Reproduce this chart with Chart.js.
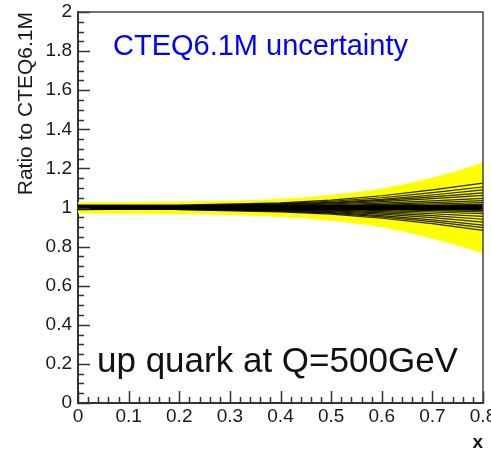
<!DOCTYPE html>
<html>
<head>
<meta charset="utf-8">
<script src="https://cdn.jsdelivr.net/npm/chart.js@4.4.1/dist/chart.umd.min.js"></script>
<style>
  html, body { margin: 0; padding: 0; background: #fff; overflow: hidden; }
  canvas { display: block; }
</style>
</head>
<body>
<canvas id="c" width="491" height="451"></canvas>
<script>
// envelope of the CTEQ6.1M uncertainty (yellow band)
const bandX = [0, 0.05, 0.1, 0.15, 0.2, 0.25, 0.3, 0.35, 0.4, 0.45, 0.5, 0.55, 0.6, 0.65, 0.7, 0.75, 0.8];
const bandUp = [1.025, 1.025, 1.026, 1.027, 1.028, 1.030, 1.032, 1.036, 1.042, 1.050, 1.062, 1.076, 1.094, 1.120, 1.150, 1.185, 1.228];
const bandLo = [0.972, 0.971, 0.970, 0.969, 0.968, 0.967, 0.964, 0.960, 0.954, 0.946, 0.935, 0.920, 0.902, 0.875, 0.843, 0.808, 0.768];

// individual error sets (black lines)
const setX = [0, 0.2, 0.4, 0.5, 0.6, 0.7, 0.8];
const central = [1, 1, 1, 1, 1, 1, 1];
const errorSets = [
  [1.012, 1.012, 1.024, 1.038, 1.060, 1.090, 1.125],
  [0.990, 1.006, 1.020, 1.032, 1.050, 1.076, 1.105],
  [1.008, 1.010, 1.017, 1.026, 1.042, 1.064, 1.090],
  [0.994, 1.003, 1.013, 1.022, 1.036, 1.054, 1.075],
  [1.010, 1.008, 1.011, 1.018, 1.030, 1.045, 1.062],
  [0.996, 1.001, 1.008, 1.014, 1.022, 1.034, 1.047],
  [1.006, 1.005, 1.006, 1.010, 1.016, 1.025, 1.035],
  [1.003, 1.002, 1.004, 1.007, 1.012, 1.018, 1.025],
  [0.998, 1.001, 1.003, 1.005, 1.008, 1.012, 1.016],
  [1.004, 1.002, 1.002, 1.003, 1.004, 1.006, 1.008],
  [1.000, 1.000, 1.001, 1.001, 1.002, 1.002, 1.003],
  [1.001, 1.000, 0.999, 0.999, 0.998, 0.998, 0.997],
  [0.997, 0.999, 0.998, 0.997, 0.996, 0.994, 0.992],
  [1.002, 0.998, 0.997, 0.995, 0.992, 0.989, 0.985],
  [0.995, 0.997, 0.995, 0.993, 0.989, 0.984, 0.978],
  [1.005, 0.997, 0.993, 0.990, 0.984, 0.977, 0.968],
  [0.992, 0.995, 0.991, 0.987, 0.979, 0.968, 0.955],
  [1.007, 0.994, 0.989, 0.983, 0.972, 0.958, 0.940],
  [0.989, 0.993, 0.987, 0.979, 0.966, 0.948, 0.925],
  [1.009, 0.992, 0.984, 0.974, 0.958, 0.937, 0.910],
  [0.991, 0.990, 0.981, 0.971, 0.952, 0.928, 0.897],
  [1.011, 0.989, 0.978, 0.966, 0.945, 0.918, 0.883]
];

const toPts = (xs, ys) => xs.map((x, i) => ({ x: x, y: ys[i] }));

const datasets = [
  { data: toPts(bandX, bandUp), borderColor: '#ffff00', borderWidth: 1, backgroundColor: '#ffff00', fill: '+1', order: 10 },
  { data: toPts(bandX, bandLo), borderColor: '#ffff00', borderWidth: 1, fill: false, order: 10 }
];
errorSets.forEach(s => {
  datasets.push({ data: toPts(setX, s), borderColor: 'rgba(0,0,0,0.85)', borderWidth: 1.2, fill: false, order: 1 });
});
datasets.push({ data: toPts(setX, central), borderColor: '#000', borderWidth: 5, fill: false, order: 0 });

// inner ticks, frame and the two labels inside the plot
const decorations = {
  id: 'decorations',
  afterDatasetsDraw(chart) {
    const { ctx, chartArea: a, scales: { x, y } } = chart;
    ctx.save();
    ctx.strokeStyle = '#333';
    ctx.lineWidth = 1.5;
    ctx.beginPath();
    for (let i = 0; i <= 40; i++) {
      const px = Math.round(x.getPixelForValue(i * 0.02)) + 0.5;
      const len = i % 5 === 0 ? 12 : 6;
      ctx.moveTo(px, a.bottom);
      ctx.lineTo(px, a.bottom - len);
    }
    for (let i = 0; i <= 40; i++) {
      const py = Math.round(y.getPixelForValue(i * 0.05)) + 0.5;
      const len = i % 4 === 0 ? 12 : 6;
      ctx.moveTo(a.left, py);
      ctx.lineTo(a.left + len, py);
    }
    ctx.stroke();

    ctx.strokeStyle = '#444';
    ctx.lineWidth = 1.5;
    ctx.beginPath();
    ctx.moveTo(a.left, a.top);
    ctx.lineTo(a.right, a.top);
    ctx.lineTo(a.right, a.bottom);
    ctx.stroke();

    ctx.font = '29px "Liberation Sans", Arial, sans-serif';
    ctx.fillStyle = '#0000ff';
    ctx.textBaseline = 'alphabetic';
    ctx.fillText('CTEQ6.1M uncertainty', a.left + 35, 55);

    ctx.font = '35px "Liberation Sans", Arial, sans-serif';
    ctx.fillStyle = '#111';
    ctx.fillText('up quark at Q=500GeV', a.left + 19, 372);
    ctx.restore();
  }
};

const fmt = v => String(Number(v.toFixed(2)));

new Chart(document.getElementById('c'), {
  type: 'line',
  data: { datasets: datasets },
  options: {
    responsive: false,
    animation: false,
    devicePixelRatio: 1,
    layout: { padding: { top: 12, right: 8, left: 0, bottom: 0 } },
    elements: { point: { radius: 0 }, line: { tension: 0 } },
    plugins: { legend: { display: false }, tooltip: { enabled: false } },
    scales: {
      x: {
        type: 'linear', min: 0, max: 0.8,
        grid: { display: false, drawTicks: false },
        border: { display: true, color: '#333', width: 2 },
        ticks: {
          stepSize: 0.1, autoSkip: false, maxRotation: 0, padding: 2, callback: fmt,
          color: '#1a1a1a', font: { family: '"Liberation Sans", Arial, sans-serif', size: 19 }
        },
        title: {
          display: true, text: 'x', align: 'end', color: '#1a1a1a',
          font: { family: '"Liberation Sans", Arial, sans-serif', size: 19, weight: 'bold' },
          padding: { top: 0, bottom: -3 }
        },
        afterFit(s) { s.height = 48; s.paddingLeft = 0; s.paddingRight = 0; }
      },
      y: {
        type: 'linear', min: 0, max: 2,
        grid: { display: false, drawTicks: false },
        border: { display: true, color: '#333', width: 2 },
        ticks: {
          stepSize: 0.2, autoSkip: false, padding: 6, callback: fmt,
          color: '#1a1a1a', font: { family: '"Liberation Sans", Arial, sans-serif', size: 19 }
        },
        title: {
          display: true, text: 'Ratio to CTEQ6.1M', align: 'end', color: '#1a1a1a',
          font: { family: '"Liberation Sans", Arial, sans-serif', size: 21 },
          padding: { top: 14, bottom: 0 }
        },
        afterFit(s) { s.width = 78; s.paddingTop = 0; s.paddingBottom = 0; }
      }
    }
  },
  plugins: [decorations]
});
</script>
</body>
</html>
